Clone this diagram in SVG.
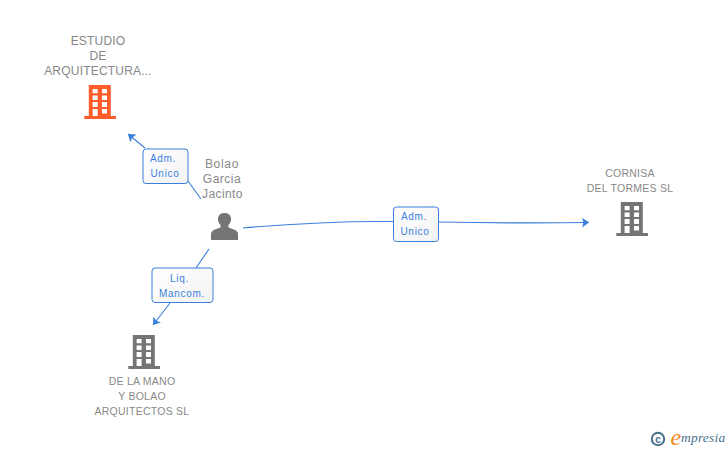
<svg xmlns="http://www.w3.org/2000/svg" width="728" height="450" viewBox="0 0 728 450">
<defs>
<style>
text{font-family:"Liberation Sans",Arial,sans-serif}
.n{font-size:10.5px;fill:#888;text-anchor:middle;letter-spacing:.25px}
.m{font-size:12px;fill:#888;text-anchor:middle;letter-spacing:.2px}
.e{font-size:10px;fill:#3a7fdc;text-anchor:middle;letter-spacing:.7px}
.c{fill:none;stroke:#3a7fdc;stroke-width:1.100}
.b{fill:url(#g);stroke:#3a7fdc;stroke-width:1}
</style>
<linearGradient id="g" x1="0" y1="0" x2="1" y2="1"><stop offset="0" stop-color="#fff"/><stop offset="1" stop-color="#f3f3f3"/></linearGradient>
<marker id="a" markerUnits="userSpaceOnUse" markerWidth="9" markerHeight="11" refX="7" refY="5" orient="auto"><path d="M0 0L7 5L0 10L1.500 5Z" fill="#3a7fdc"/></marker>
<path id="bld" fill-rule="evenodd" d="M4.500 0H26.500V31H31.700V34H0V31H4.500ZM8.300 4V8.300H13.300V4ZM17.700 4V8.300H22.700V4ZM8.300 10.500V15H13.300V10.500ZM17.700 10.500V15H22.700V10.500ZM8.300 17V22H13.300V17ZM17.700 17V22H22.700V17ZM8.300 24V31H13.300V24ZM17.700 24V28.500H22.700V24Z"/>
</defs>
<rect width="728" height="450" fill="#fff"/>
<g id="connectors">
<path class="c" d="M201 199L188 181M145 148L128 134" marker-end="url(#a)"/>
<path class="c" d="M209 249L196 268M170 303L153 325" marker-end="url(#a)"/>
<path class="c" d="M243 228Q320 221 393 221.500M438 222Q520 223.500 589 222.500" marker-end="url(#a)"/>
</g>
<g id="edge-adm1"><rect class="b" x="143" y="149" width="45" height="34.500" rx="3"/><text class="e" x="163" y="162">Adm.</text><text class="e" x="165" y="177">Unico</text></g>
<g id="edge-liq"><rect class="b" x="152" y="268" width="61" height="34.500" rx="3"/><text class="e" x="179.500" y="282">Liq.</text><text class="e" x="182" y="297">Mancom.</text></g>
<g id="edge-adm2"><rect class="b" x="393.500" y="207" width="45" height="34.500" rx="3"/><text class="e" x="414" y="220">Adm.</text><text class="e" x="415" y="235">Unico</text></g>
<g id="node-estudio"><text class="m" x="98" y="45">ESTUDIO</text><text class="m" x="98" y="60">DE</text><text class="m" x="98" y="75">ARQUITECTURA...</text><use href="#bld" x="84.300" y="85" fill="#ff5c2b"/></g>
<g id="node-bolao"><text class="m" x="222" y="168" style="letter-spacing:.7px">Bolao</text><text class="m" x="222" y="183" style="letter-spacing:.5px">Garcia</text><text class="m" x="222.500" y="198" style="letter-spacing:.4px">Jacinto</text><path d="M211 240V234Q211 231 215 229.500L220.500 227.500V225Q217.500 222 218 218Q219 213 224.500 213Q230 213 231 218Q231.500 222 228.500 225V227.500L234 229.500Q238 231 238 234V240Z" fill="#757575"/></g>
<g id="node-cornisa"><text class="n" x="630" y="177">CORNISA</text><text class="n" x="630" y="192">DEL TORMES SL</text><use href="#bld" x="616.300" y="202" fill="#757575"/></g>
<g id="node-mano"><text class="n" x="142" y="385">DE LA MANO</text><text class="n" x="142" y="400">Y BOLAO</text><text class="n" x="142" y="415">ARQUITECTOS SL</text><use href="#bld" x="128.300" y="335" fill="#757575"/></g>
<g id="logo"><circle cx="658" cy="439" r="6.200" fill="none" stroke="#47708c" stroke-width="2"/><text x="658" y="442.500" font-size="10" font-weight="bold" fill="#47708c" text-anchor="middle">c</text><text x="670.500" y="445" font-size="24" font-style="italic" fill="#f08a24" style="font-family:'Liberation Serif',serif">e</text><text x="681" y="442" font-size="13.500" font-style="italic" fill="#47708c" style="font-family:'Liberation Serif',serif;letter-spacing:.2px">mpresia</text></g>
</svg>
